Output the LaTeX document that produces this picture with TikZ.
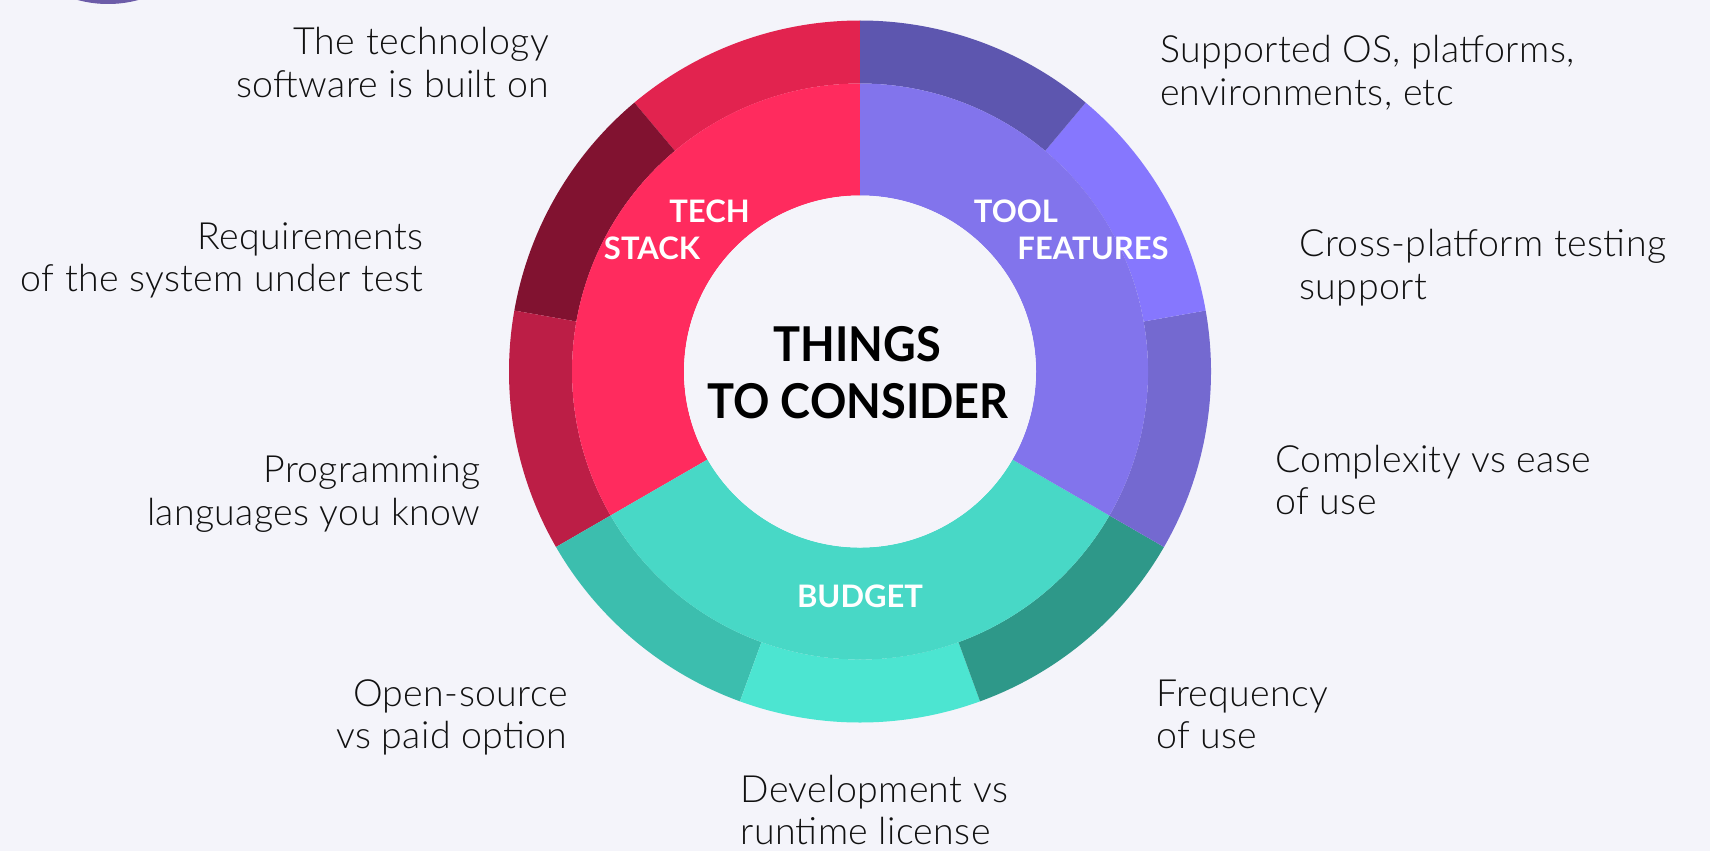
\documentclass[tikz,border=0pt]{standalone}
\usepackage{fontspec}
\setmainfont{Lato}
\newfontfamily\lightfont[LetterSpace=1.0]{Lato Light}
\definecolor{bg}{HTML}{F4F4FA}
\definecolor{topc}{HTML}{6C5CA8}
\definecolor{redI}{HTML}{FF2B5E}
\definecolor{redA}{HTML}{E2234F}
\definecolor{redB}{HTML}{811230}
\definecolor{redC}{HTML}{BC1E46}
\definecolor{purI}{HTML}{8274EC}
\definecolor{purA}{HTML}{5D56AF}
\definecolor{purB}{HTML}{8677FE}
\definecolor{purC}{HTML}{7469D0}
\definecolor{tealI}{HTML}{48D8C6}
\definecolor{tealA}{HTML}{3CBEAE}
\definecolor{tealB}{HTML}{4CE5D1}
\definecolor{tealC}{HTML}{2E9889}
\definecolor{txt}{HTML}{111111}
\begin{document}
\begin{tikzpicture}[x=1pt,y=-1pt,
  lbl/.style={font=\lightfont\fontsize{37.5}{43}\selectfont, text=txt, inner sep=0pt},
  lblR/.style={lbl, anchor=base east},
  lblL/.style={lbl, anchor=base west},
  sect/.style={font=\bfseries\fontsize{31}{37}\selectfont, text=white, inner sep=0pt, anchor=base},
  title/.style={font=\bfseries\fontsize{48}{56}\selectfont, text=black, inner sep=0pt, anchor=base}]
\useasboundingbox (0,0) rectangle (1710,851);
\clip (0,0) rectangle (1710,851);
\fill[bg] (0,0) rectangle (1710,851);
\fill[topc] (108,-113) circle[radius=117];
\begin{scope}[shift={(860,371.5)}, y=1pt]
  % outer ring
  \foreach \a/\b/\c in {90/130/redA,130/170/redB,170/210/redC,
                        210/250/tealA,250/290/tealB,290/330/tealC,
                        330/370/purC,370/410/purB,410/450/purA}
    \fill[\c] (\a:351) arc[start angle=\a,end angle=\b,radius=351]
      -- (\b:288) arc[start angle=\b,end angle=\a,radius=288] -- cycle;
  % inner ring
  \foreach \a/\b/\c in {90/210/redI,210/330/tealI,330/450/purI}
    \fill[\c] (\a:288) arc[start angle=\a,end angle=\b,radius=288]
      -- (\b:176) arc[start angle=\b,end angle=\a,radius=176] -- cycle;
  \fill[bg] (0,0) circle[radius=176];
\end{scope}
% centre
\node[title] (c1) at (857,361.7) {\scalebox{0.94}[1]{THINGS}};
\node[title] (c2) at (858,418.3) {\scalebox{0.94}[1]{TO CONSIDER}};
\node[sect] (s1) at (709.5,222.7) {TECH};
\node[sect] (s2) at (652,259.3) {STACK};
\node[sect] (s3) at (1016,222.7) {TOOL};
\node[sect] (s4) at (1093,259.3) {FEATURES};
\node[sect] (s5) at (860,607.3) {BUDGET};
% labels
\node[lblR] (t1a) at (549,54.3) {The technology};
\node[lblR] (t1b) at (549,97.1) {software is built on};
\node[lblR] (t2a) at (423.6,249) {Requirements};
\node[lblR] (t2b) at (423.6,291.8) {of the system under test};
\node[lblR] (t3a) at (480.3,482.9) {Programming};
\node[lblR] (t3b) at (480.3,525.7) {languages you know};
\node[lblR] (t4a) at (567.7,706.7) {Open-source};
\node[lblR] (t4b) at (567.7,748.3) {vs paid option};
\node[lblL] (t5a) at (740.3,802.7) {Development vs};
\node[lblL] (t5b) at (740.3,844.5) {runtime license};
\node[lblL] (t6a) at (1156,706.7) {Frequency};
\node[lblL] (t6b) at (1156,748.3) {of use};
\node[lblL] (t7a) at (1275.3,472) {Complexity vs ease};
\node[lblL] (t7b) at (1275.3,514.3) {of use};
\node[lblL] (t8a) at (1299.4,256.4) {Cross-platform testing};
\node[lblL] (t8b) at (1299.4,299.3) {support};
\node[lblL] (t9a) at (1159.8,62.5) {Supported OS, platforms,};
\node[lblL] (t9b) at (1159.8,105.4) {environments, etc};
\end{tikzpicture}
\end{document}
